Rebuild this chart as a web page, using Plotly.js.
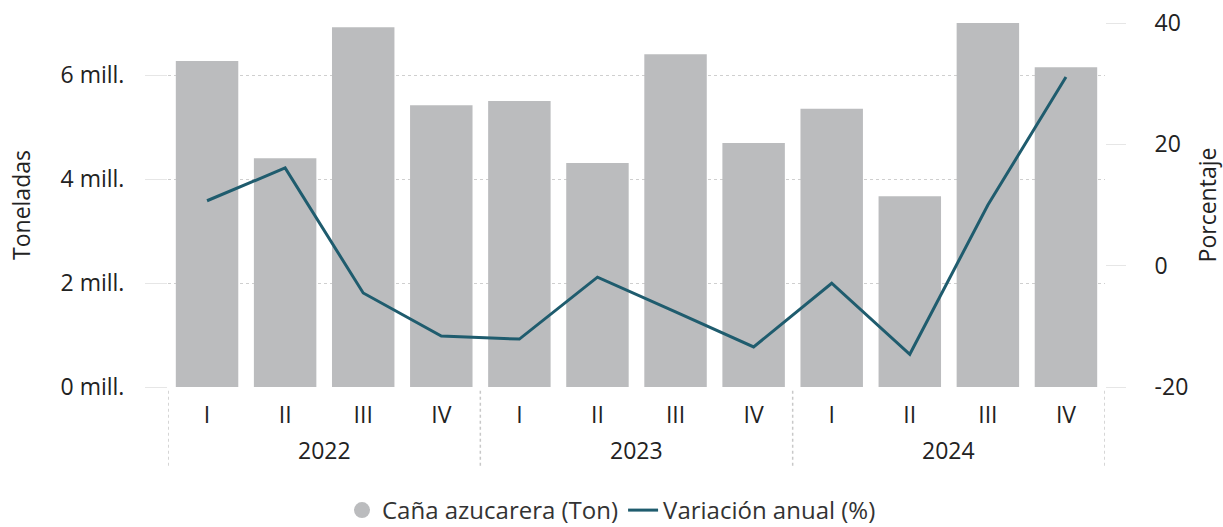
<!DOCTYPE html>
<html>
<head>
<meta charset="utf-8">
<script src="https://cdn.plot.ly/plotly-3.0.1.min.js"></script>
<style>
html,body{margin:0;padding:0;background:#fff;}
#chart{width:1223px;height:527px;}
</style>
</head>
<body>
<div id="chart"></div>
<script>
// Data
const years = ["2022","2022","2022","2022","2023","2023","2023","2023","2024","2024","2024","2024"];
const quarters = ["I","II","III","IV","I","II","III","IV","I","II","III","IV"];
const cana = [6.27, 4.40, 6.92, 5.42, 5.50, 4.31, 6.40, 4.69, 5.35, 3.67, 7.00, 6.15]; // millones de toneladas
const variacion = [10.7, 16.1, -4.5, -11.6, -12.1, -1.9, -7.6, -13.4, -2.9, -14.6, 10.0, 31.1]; // %
const leftTicks = [0, 2, 4, 6];
const leftTickText = ["0 mill.", "2 mill.", "4 mill.", "6 mill."];
const rightTicks = [-20, 0, 20, 40];
const rightTickText = ["-20", "0", "20", "40"];

const barColor = "#BBBCBE";
const lineColor = "#1F5C6E";
const fontFam = "'Open Sans', 'Noto Sans', sans-serif";
const fs = 23;

// category positions (index along the axis)
const idx = quarters.map((_, i) => i);

// year groups derived from the years array
const groups = [];
years.forEach((y, i) => {
  const g = groups.length ? groups[groups.length - 1] : null;
  if (g && g.year === y) { g.end = i; } else { groups.push({year: y, start: i, end: i}); }
});

const annotations = groups.map(g => ({
  x: (g.start + g.end) / 2, xref: "x",
  y: -0.173, yref: "paper",
  text: g.year, showarrow: false,
  xanchor: "center", yanchor: "middle",
  font: {size: fs, color: "#222", family: fontFam}
}));

const bounds = [];
groups.forEach((g, k) => { if (k === 0) bounds.push(g.start - 0.5); bounds.push(g.end + 0.5); });
const shapes = bounds.map(b => ({
  type: "line", xref: "x", yref: "paper",
  x0: b, x1: b, y0: -0.01, y1: -0.222,
  line: {color: "#C8C8C8", width: 1.5, dash: "dot"}
}));

const traces = [
  {
    type: "bar",
    x: idx,
    y: cana,
    name: "Caña azucarera (Ton)",
    marker: {color: barColor},
    showlegend: false,
    yaxis: "y",
    hoverinfo: "skip"
  },
  {
    type: "scatter",
    mode: "lines",
    x: idx,
    y: variacion,
    name: "Variación anual (%)",
    line: {color: lineColor, width: 3},
    yaxis: "y2",
    showlegend: false
  },
  {
    type: "scatter",
    mode: "markers",
    x: [null],
    y: [null],
    name: "Caña azucarera (Ton)",
    marker: {color: barColor, size: 20, symbol: "circle"},
    showlegend: true
  },
  {
    type: "scatter",
    mode: "lines",
    x: [null],
    y: [null],
    name: "Variación anual (%)",
    line: {color: lineColor, width: 3},
    yaxis: "y2",
    showlegend: true
  }
];

const layout = {
  width: 1223,
  height: 527,
  margin: {l: 168, r: 118, t: 23, b: 140},
  paper_bgcolor: "#fff",
  plot_bgcolor: "#fff",
  font: {family: fontFam, size: fs, color: "#222"},
  bargap: 0.2,
  showlegend: true,
  legend: {
    orientation: "h",
    xref: "container",
    x: 0.5,
    xanchor: "center",
    yref: "container",
    y: 0.074,
    yanchor: "top",
    font: {size: 24, color: "#333"},
    itemwidth: 30,
    tracegroupgap: 0,
    traceorder: "normal"
  },
  xaxis: {
    range: [-0.5, idx.length - 0.5],
    tickmode: "array",
    tickvals: idx,
    ticktext: quarters,
    showgrid: false,
    zeroline: false,
    showline: false,
    ticks: "",
    ticklabelstandoff: 12,
    automargin: false,
    tickfont: {size: fs, color: "#222"}
  },
  yaxis: {
    range: [0, 7.0],
    tickmode: "array",
    tickvals: leftTicks,
    ticktext: leftTickText,
    showgrid: true,
    gridcolor: "#CFCFCF",
    griddash: "dot",
    gridwidth: 1,
    zeroline: false,
    showline: false,
    ticks: "outside",
    ticklen: 22,
    tickcolor: "#E6E6E6",
    ticklabelstandoff: 16,
    automargin: false,
    title: {text: "Toneladas", font: {size: fs, color: "#222"}, standoff: 23}
  },
  yaxis2: {
    overlaying: "y",
    side: "right",
    range: [-20, 40],
    tickmode: "array",
    tickvals: rightTicks,
    ticktext: rightTickText,
    showgrid: false,
    zeroline: false,
    showline: false,
    ticks: "outside",
    ticklen: 20,
    tickcolor: "#E6E6E6",
    ticklabelstandoff: 24,
    automargin: false,
    title: {text: "Porcentaje", font: {size: fs, color: "#222"}, standoff: 12}
  },
  annotations: annotations,
  shapes: shapes
};

Plotly.newPlot("chart", traces, layout, {displayModeBar: false, staticPlot: true});
</script>
</body>
</html>
